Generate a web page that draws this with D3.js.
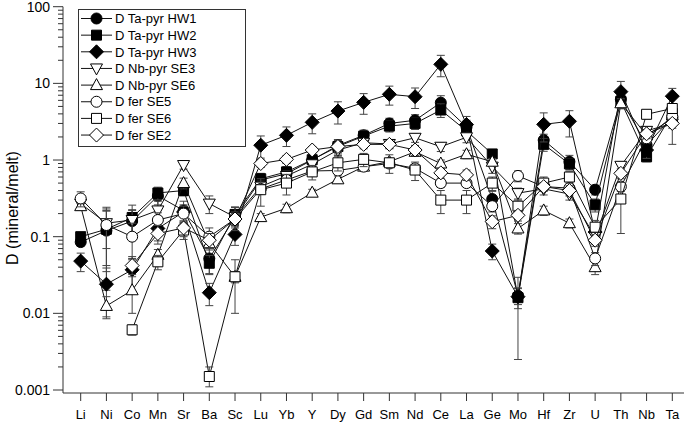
<!DOCTYPE html>
<html><head><meta charset="utf-8">
<script src="https://cdn.jsdelivr.net/npm/d3@7"></script>
<style>body{margin:0;background:#fff}svg{display:block}text{font-family:"Liberation Sans",Arial,Helvetica,sans-serif}</style>
</head><body><svg id="c" width="685" height="424"></svg>
<script>
const categories = ["Li","Ni","Co","Mn","Sr","Ba","Sc","Lu","Yb","Y","Dy","Gd","Sm","Nd","Ce","La","Ge","Mo","Hf","Zr","U","Th","Nb","Ta"];
const seriesNames = ["D Ta-pyr HW1","D Ta-pyr HW2","D Ta-pyr HW3","D Nb-pyr SE3","D Nb-pyr SE6","D fer SE5","D fer SE6","D fer SE2"];
const seriesMarkers = ["circle","square","diamond","triDown","triUp","circle","square","diamond"];
const seriesFilled = [true,true,true,false,false,false,false,false];
const yTicks = [0.001,0.01,0.1,1,10,100];
const yTickLabels = ["0.001","0.01","0.1","1","10","100"];

const hw1    = [0.085,0.12,0.16,0.34,0.22,0.052,0.18,0.55,0.66,1.0,1.55,2.1,3.0,3.3,5.6,2.7,0.31,0.017,1.82,0.95,0.41,6.2,1.57,3.6];
const hw1Err = [0.01,0.1,0.06,0.08,0.07,0.02,0.06,0.1,0.12,0.18,0.3,0.35,0.5,0.6,1.3,0.6,0.08,0.004,0.35,0.2,0.06,1.2,0.3,0.6];
const hw2    = [0.1,0.125,0.178,0.372,0.4,0.045,0.195,0.57,0.7,1.01,1.5,2.05,2.77,3.0,4.49,2.4,1.2,0.016,1.6,0.89,0.26,5.85,1.1,4.05];
const hw2Err = [0.012,0.09,0.08,0.07,0.06,0.012,0.05,0.1,0.12,0.18,0.3,0.35,0.45,0.5,0.9,0.5,0.15,0.0135,0.3,0.15,0.05,1.2,0.15,0.6];
const hw3    = [0.048,0.024,0.037,0.128,0.21,0.0186,0.107,1.56,2.1,3.1,4.35,5.65,7.2,6.7,17.7,2.9,0.065,0.0165,2.92,3.2,0.115,7.8,1.35,6.8];
const hw3Err = [0.013,0.015,0.018,0.04,0.05,0.006,0.03,0.5,0.6,0.9,1.4,1.7,2.0,2.0,5.5,0.8,0.015,0.005,1.2,1.2,0.03,2.8,0.3,1.8];
const se3    = [0.27,0.15,0.165,0.22,0.86,0.27,0.18,0.45,0.62,0.88,1.35,1.68,1.62,1.95,1.49,1.98,0.82,0.37,0.42,0.36,0.1,0.84,2.4,3.0];
const se3Err = [0.05,0.08,0.06,0.07,0.1,0.07,0.06,0.08,0.1,0.12,0.2,0.2,0.2,0.25,0.2,0.3,0.15,0.06,0.07,0.06,0.02,0.1,0.3,1.4];
const se6n    = [0.25,0.0125,0.02,0.058,0.5,0.082,0.03,0.18,0.235,0.375,0.56,0.82,0.95,1.28,0.9,1.19,0.95,0.128,0.22,0.15,0.04,5.5,2.1,3.5];
const se6nErr = [0.03,0.004,0.01,0.01,0.08,0.015,0.005,0.02,0.03,0.04,0.06,0.1,0.1,0.15,0.1,0.15,0.1,0.02,0.03,0.02,0.008,0.8,0.3,0.5];
const se5    = [0.315,0.142,0.1,0.165,0.2,0.1,0.17,0.42,0.55,0.72,0.73,0.82,0.9,0.78,0.5,0.5,0.25,0.62,0.45,0.43,0.052,0.45,1.92,3.7];
const se5Err = [0.07,0.1,0.05,0.04,0.05,0.03,0.04,0.05,0.06,0.08,0.08,0.08,0.08,0.08,0.06,0.05,0.04,0.1,0.05,0.05,0.01,0.06,0.2,0.5];
const fer6    = [null,null,0.0061,0.047,0.122,0.0015,0.03,0.41,0.5,0.7,0.92,1.02,0.92,0.74,0.3,0.3,0.5,0.25,0.5,0.6,0.133,0.31,3.95,4.7];
const fer6Err = [null,null,0.0009,0.01,0.03,0.0005,0.02,0.16,0.15,0.15,0.2,0.2,0.25,0.2,0.1,0.1,0.1,0.05,0.1,0.1,0.03,0.2,0.5,0.6];
const se2    = [null,null,0.042,0.11,0.13,0.09,0.17,0.9,1.02,1.35,1.5,1.6,1.6,1.35,0.68,0.64,0.157,0.19,0.45,0.4,0.09,0.67,2.2,3.0];
const se2Err = [null,null,0.01,0.03,0.03,0.02,0.03,0.1,0.12,0.15,0.2,0.2,0.2,0.2,0.1,0.1,0.03,0.03,0.06,0.06,0.015,0.1,0.3,0.4];

const seriesValues = [hw1,hw2,hw3,se3,se6n,se5,fer6,se2];
const seriesErrors = [hw1Err,hw2Err,hw3Err,se3Err,se6nErr,se5Err,fer6Err,se2Err];

const svg = d3.select("#c");
const axisX = 63, axisBottom = 393;
const x = d3.scalePoint().domain(categories).range([80.7, 672.3]);
const y = d3.scaleLog().domain([0.001, 100]).range([390, 6.7]);

// Axes
const gY = svg.append("g");
gY.append("line").attr("x1",axisX).attr("x2",axisX).attr("y1",y(100)).attr("y2",axisBottom).attr("stroke","#333");
const minors = [];
yTicks.forEach((t,i)=>{ if(i<yTicks.length-1) for(let k=2;k<=9;k++) minors.push(t*k); });
gY.selectAll(".mn").data(minors).enter().append("line")
  .attr("x1",axisX-5).attr("x2",axisX).attr("y1",d=>y(d)).attr("y2",d=>y(d)).attr("stroke","#333");
gY.selectAll(".mj").data(yTicks).enter().append("line")
  .attr("x1",axisX-10).attr("x2",axisX).attr("y1",d=>y(d)).attr("y2",d=>y(d)).attr("stroke","#333");
gY.selectAll(".tl").data(yTicks).enter().append("text")
  .attr("x",axisX-13).attr("y",d=>y(d)+5).attr("text-anchor","end").attr("font-size",14).attr("fill","#000")
  .text((d,i)=>yTickLabels[i]);
svg.append("text").attr("transform","translate(18,208) rotate(-90)").attr("text-anchor","middle")
  .attr("font-size",16).text("D (mineral/melt)");

const gX = svg.append("g");
gX.append("line").attr("x1",axisX).attr("x2",684).attr("y1",axisBottom).attr("y2",axisBottom).attr("stroke","#333");
gX.selectAll(".xt").data(categories).enter().append("line")
  .attr("x1",d=>x(d)).attr("x2",d=>x(d)).attr("y1",axisBottom).attr("y2",axisBottom+8).attr("stroke","#333");
gX.selectAll(".xl").data(categories).enter().append("text")
  .attr("x",d=>x(d)).attr("y",419).attr("text-anchor","middle").attr("font-size",13).text(d=>d);

// Marker paths
function markerPath(type){
  switch(type){
    case "circle": return d3.symbol().type(d3.symbolCircle).size(Math.PI*5.5*5.5)();
    case "square": return "M-5,-5H5V5H-5Z";
    case "diamond": return "M0,-7L7,0L0,7L-7,0Z";
    case "triUp": return "M0,-6.5L6,4.5L-6,4.5Z";
    case "triDown": return "M0,6.5L6,-4.5L-6,-4.5Z";
  }
}

const line = d3.line().defined(d=>d.v!=null).x(d=>x(d.c)).y(d=>y(d.v));

seriesValues.forEach((vals,si)=>{
  const g = svg.append("g");
  const pts = categories.map((c,i)=>({c, v: vals[i], e: seriesErrors[si][i]}));
  g.append("path").datum(pts).attr("d",line).attr("fill","none").attr("stroke","#111").attr("stroke-width",1);
  const eb = pts.filter(d=>d.v!=null && d.e!=null && d.e>0);
  eb.forEach(d=>{
    const lo = Math.max(d.v - d.e, 0.0011), hi = d.v + d.e;
    const cx = x(d.c);
    g.append("line").attr("x1",cx).attr("x2",cx).attr("y1",y(lo)).attr("y2",y(hi)).attr("stroke","#444");
    [lo,hi].forEach(b=>g.append("line").attr("x1",cx-4).attr("x2",cx+4).attr("y1",y(b)).attr("y2",y(b)).attr("stroke","#444"));
  });
  g.selectAll(".m").data(pts.filter(d=>d.v!=null)).enter().append("path")
    .attr("d",markerPath(seriesMarkers[si]))
    .attr("transform",d=>`translate(${x(d.c)},${y(d.v)})`)
    .attr("fill",seriesFilled[si]?"#000":"#fff").attr("stroke","#000").attr("stroke-width",1);
});

// Legend
const lg = svg.append("g");
lg.append("rect").attr("x",78.5).attr("y",9.5).attr("width",167).attr("height",137).attr("fill","#fff").attr("stroke","#333");
seriesNames.forEach((n,i)=>{
  const yy = 18.5 + i*16.65;
  lg.append("line").attr("x1",81).attr("x2",112).attr("y1",yy).attr("y2",yy).attr("stroke","#111");
  lg.append("path").attr("d",markerPath(seriesMarkers[i])).attr("transform",`translate(96.5,${yy})`)
    .attr("fill",seriesFilled[i]?"#000":"#fff").attr("stroke","#000");
  lg.append("text").attr("x",115).attr("y",yy+4.7).attr("font-size",13).text(n);
});
</script></body></html>
